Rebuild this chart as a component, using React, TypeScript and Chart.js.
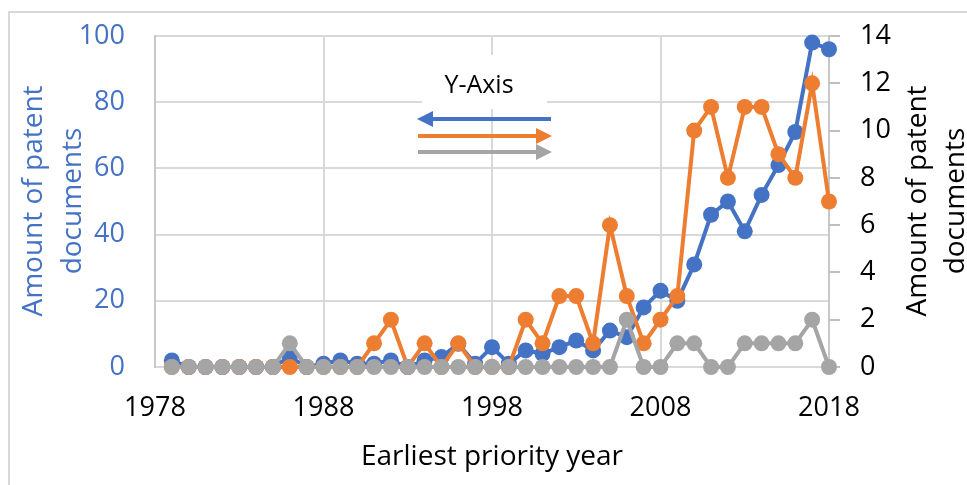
import React, { useEffect, useRef } from "react";
import { Chart, registerables } from "chart.js";

Chart.register(...registerables);

const years = [
  1979, 1980, 1981, 1982, 1983, 1984, 1985, 1986, 1987, 1988,
  1989, 1990, 1991, 1992, 1993, 1994, 1995, 1996, 1997, 1998,
  1999, 2000, 2001, 2002, 2003, 2004, 2005, 2006, 2007, 2008,
  2009, 2010, 2011, 2012, 2013, 2014, 2015, 2016, 2017, 2018,
];
// left axis
const blueDocs = [
  2, 0, 0, 0, 0, 0, 0, 3, 0, 1,
  2, 1, 1, 2, 0, 2, 3, 7, 1, 6,
  1, 5, 4, 6, 8, 5, 11, 9, 18, 23,
  20, 31, 46, 50, 41, 52, 61, 71, 98, 96,
];
// right axis
const orangeDocs = [
  0, 0, 0, 0, 0, 0, 0, 0, 0, 0,
  0, 0, 1, 2, 0, 1, 0, 1, 0, 0,
  0, 2, 1, 3, 3, 1, 6, 3, 1, 2,
  3, 10, 11, 8, 11, 11, 9, 8, 12, 7,
];
// right axis
const grayDocs = [
  0, 0, 0, 0, 0, 0, 0, 1, 0, 0,
  0, 0, 0, 0, 0, 0, 0, 0, 0, 0,
  0, 0, 0, 0, 0, 0, 0, 2, 0, 0,
  1, 1, 0, 0, 1, 1, 1, 1, 2, 0,
];
const xMin = 1978;
const xMax = 2018;
const xStep = 10;
const leftMax = 100;
const leftStep = 20;
const rightMax = 14;
const rightStep = 2;

const BLUE = "#4472C4";
const ORANGE = "#ED7D31";
const GRAY = "#A5A5A5";
const FONT = "'Open Sans', sans-serif";
const GRID = "#d9d9d9";
const TXT = 27;

function arrow(ctx: CanvasRenderingContext2D, x0: number, x1: number, y: number, color: string) {
  const dir = x1 > x0 ? 1 : -1;
  const head = 16;
  ctx.save();
  ctx.strokeStyle = color;
  ctx.fillStyle = color;
  ctx.lineWidth = 4;
  ctx.beginPath();
  ctx.moveTo(x0, y);
  ctx.lineTo(x1 - dir * head, y);
  ctx.stroke();
  ctx.beginPath();
  ctx.moveTo(x1, y);
  ctx.lineTo(x1 - dir * head, y - 8);
  ctx.lineTo(x1 - dir * head, y + 8);
  ctx.closePath();
  ctx.fill();
  ctx.restore();
}

const overlay = {
  id: "overlay",
  beforeDatasetsDraw(chart: any) {
    const ctx = chart.ctx as CanvasRenderingContext2D;
    const y1 = chart.scales.y1;
    ctx.save();
    ctx.strokeStyle = "#bfbfbf";
    ctx.lineWidth = 2;
    for (let v = 0; v <= rightMax; v += rightStep) {
      const py = Math.round(y1.getPixelForValue(v));
      ctx.beginPath();
      ctx.moveTo(y1.left, py);
      ctx.lineTo(y1.left + 11, py);
      ctx.stroke();
    }
    // annotation box
    ctx.fillStyle = "#ffffff";
    ctx.fillRect(422, 55, 125, 54);
    ctx.fillStyle = "#000";
    ctx.font = `25px ${FONT}`;
    ctx.textAlign = "center";
    ctx.textBaseline = "middle";
    ctx.fillText("Y-Axis", 479, 86);
    ctx.restore();
    arrow(ctx, 551, 417, 119, BLUE);
    arrow(ctx, 418, 552, 136, ORANGE);
    arrow(ctx, 418, 552, 152, GRAY);
  },
  afterDraw(chart: any) {
    const ctx = chart.ctx as CanvasRenderingContext2D;
    ctx.save();
    ctx.font = `${TXT + 1}px ${FONT}`;
    ctx.textAlign = "center";
    ctx.textBaseline = "middle";
    const drawRot = (x: number, y: number, t: string, c: string) => {
      ctx.save();
      ctx.translate(x, y);
      ctx.rotate(-Math.PI / 2);
      ctx.fillStyle = c;
      ctx.fillText(t, 0, 0);
      ctx.restore();
    };
    drawRot(34, 201, "Amount of patent", BLUE);
    drawRot(73, 201, "documents", BLUE);
    drawRot(918, 201, "Amount of patent", "#000");
    drawRot(956, 201, "documents", "#000");
    ctx.fillStyle = "#000";
    ctx.fillText("Earliest priority year", 492, 457);
    ctx.restore();
  },
};

const noPad = (s: any) => {
  s.paddingTop = 0;
  s.paddingBottom = 0;
};

export default function App() {
  const ref = useRef<HTMLCanvasElement | null>(null);
  useEffect(() => {
    if (!ref.current) return;
    const pts = (arr: number[]) => years.map((x, i) => ({ x, y: arr[i] }));
    const ds = (label: string, arr: number[], color: string, axis: string, order: number) => ({
      label,
      data: pts(arr),
      yAxisID: axis,
      borderColor: color,
      backgroundColor: color,
      pointBackgroundColor: color,
      pointBorderColor: color,
      borderWidth: 4,
      pointRadius: 8,
      pointBorderWidth: 0,
      tension: 0,
      clip: false,
      order,
    });
    const chart = new Chart(ref.current, {
      type: "line",
      data: {
        datasets: [
          ds("Series 1", blueDocs, BLUE, "y", 3),
          ds("Series 2", orangeDocs, ORANGE, "y1", 2),
          ds("Series 3", grayDocs, GRAY, "y1", 1),
        ],
      },
      plugins: [overlay],
      options: {
        animation: false,
        responsive: false,
        devicePixelRatio: 1,
        layout: { padding: { top: 36, left: 0, right: 0, bottom: 0 } },
        plugins: { legend: { display: false }, tooltip: { enabled: false } },
        scales: {
          x: {
            type: "linear",
            min: xMin,
            max: xMax,
            ticks: {
              stepSize: xStep,
              callback: (v: any) => String(v),
              color: "#000",
              font: { family: FONT, size: TXT },
              padding: 25,
              maxRotation: 0,
            },
            grid: { color: GRID, lineWidth: 2, drawTicks: false },
            border: { display: false },
            afterFit: (s: any) => {
              s.height = 485 - 367;
              s.paddingLeft = 0;
              s.paddingRight = 0;
            },
          },
          y: {
            position: "left",
            min: 0,
            max: leftMax,
            ticks: {
              stepSize: leftStep,
              color: BLUE,
              font: { family: FONT, size: TXT },
              padding: 30,
            },
            grid: { color: GRID, lineWidth: 2, drawTicks: false },
            border: { display: true, color: "#c8c8c8", width: 2 },
            afterFit: (s: any) => {
              s.width = 155;
              noPad(s);
            },
          },
          y1: {
            position: "right",
            min: 0,
            max: rightMax,
            ticks: {
              stepSize: rightStep,
              color: "#000",
              font: { family: FONT, size: TXT },
              padding: 31,
            },
            grid: { drawOnChartArea: false, drawTicks: false },
            border: { display: true, color: "#c8c8c8", width: 2 },
            afterFit: (s: any) => {
              s.width = 967 - 829;
              noPad(s);
            },
          },
        },
      },
    });
    return () => chart.destroy();
  }, []);
  return (
    <div style={{ position: "absolute", left: 0, top: 0, width: 967, height: 485, background: "#fff" }}>
      <div
        style={{
          position: "absolute",
          left: 8,
          top: 11,
          right: 0,
          bottom: 0,
          borderLeft: "2px solid #d9d9d9",
          borderTop: "2px solid #d9d9d9",
        }}
      />
      <canvas ref={ref} width={967} height={485} style={{ position: "absolute", left: 0, top: 0, width: 967, height: 485 }} />
    </div>
  );
}
